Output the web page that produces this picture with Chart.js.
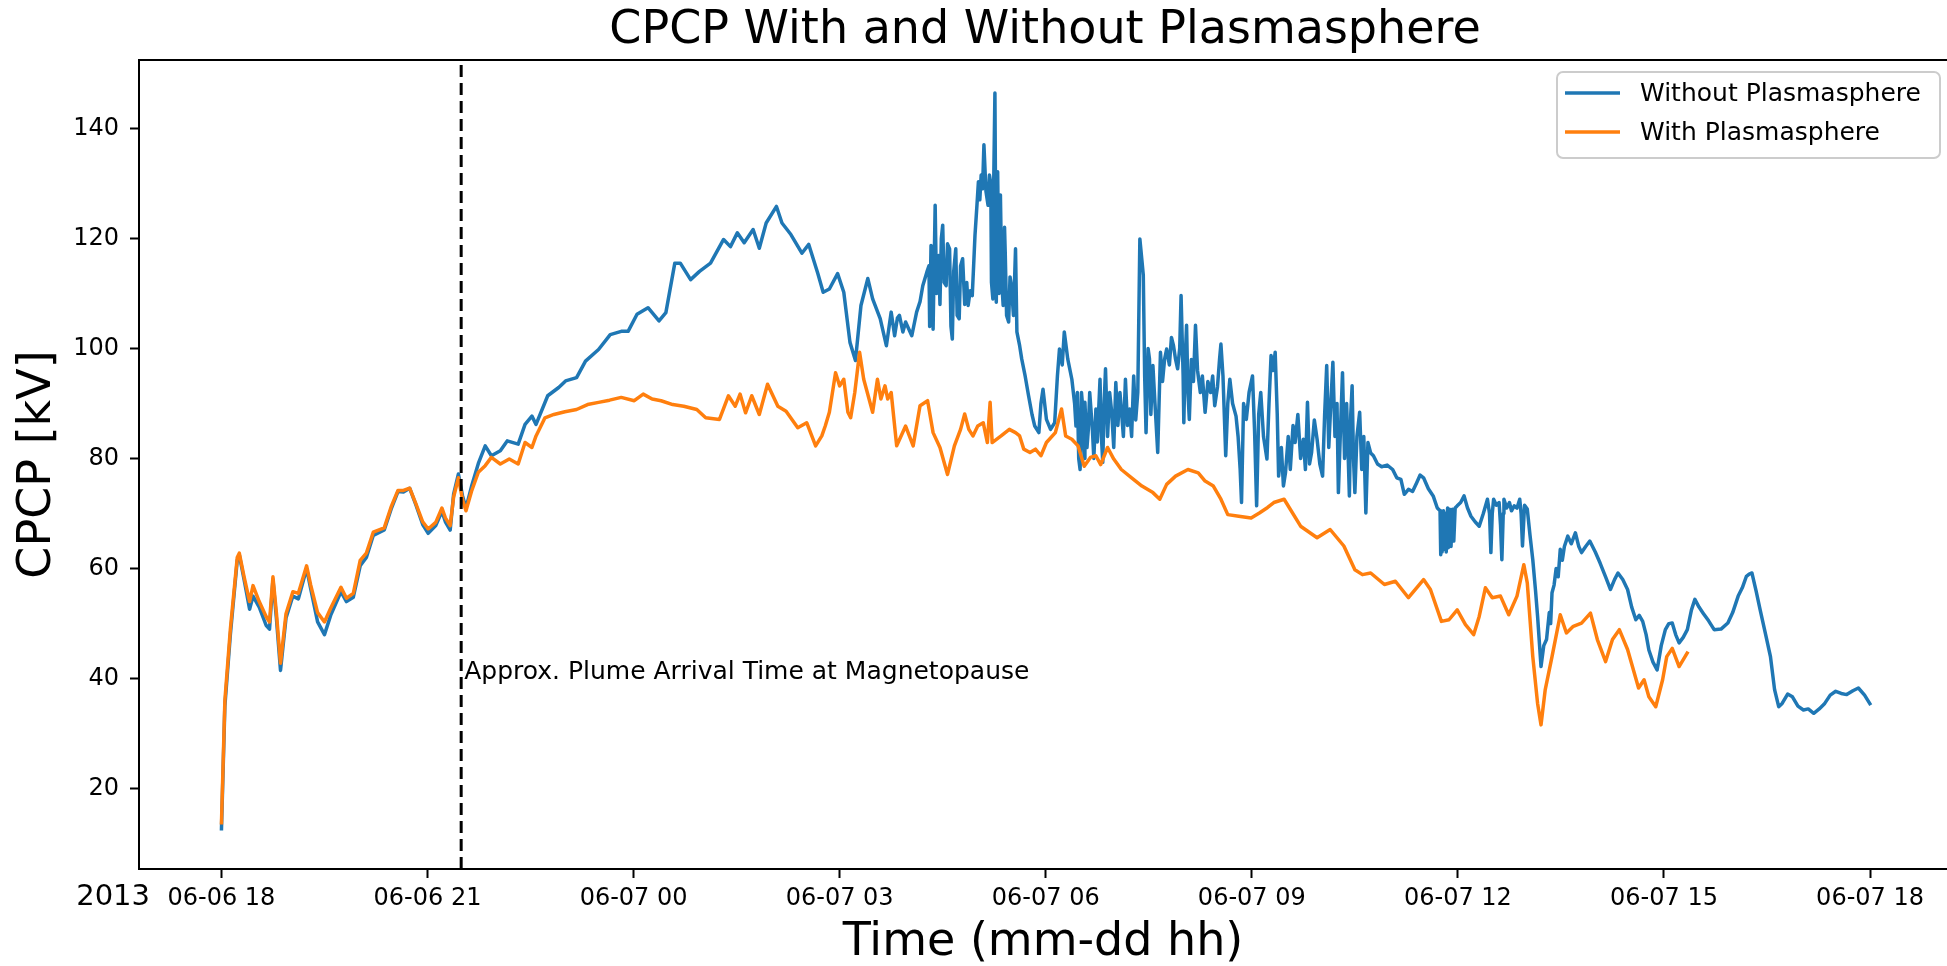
<!DOCTYPE html>
<html>
<head>
<meta charset="utf-8">
<title>CPCP With and Without Plasmasphere</title>
<script src="https://cdn.jsdelivr.net/npm/chart.js@4.4.0/dist/chart.umd.min.js"></script>
<style>
  html, body { margin: 0; padding: 0; background: #fff; }
  #wrap { width: 1947px; height: 966px; }
</style>
</head>
<body>
<div id="wrap"><canvas id="cpcpChart"></canvas></div>
<script>
// time is in hours counted from 2013-06-06 00:00
const xTickHours = [18, 21, 24, 27, 30, 33, 36, 39, 42];
const xTickLabels = [
  "06-06 18", "06-06 21", "06-07 00", "06-07 03", "06-07 06",
  "06-07 09", "06-07 12", "06-07 15", "06-07 18",
];
const yTicks = [20, 40, 60, 80, 100, 120, 140];
const plumeArrivalHour = 21.49;
const plumeLabelLevel = 40;

// [hour, CPCP kV]
const withoutPlasmasphere = [
  [18.00, 12.4], [18.05, 35.0], [18.13, 48.0], [18.23, 61.5], [18.26, 62.5],
  [18.33, 58.0], [18.41, 52.6], [18.46, 55.0], [18.55, 53.0], [18.65, 49.7],
  [18.70, 49.0], [18.75, 58.0], [18.80, 51.0], [18.86, 41.5], [18.94, 51.0],
  [19.04, 55.0], [19.12, 54.5], [19.24, 60.0], [19.30, 56.3], [19.40, 50.3],
  [19.50, 48.0], [19.59, 51.5], [19.74, 55.8], [19.82, 54.0], [19.92, 54.8],
  [20.02, 60.5], [20.11, 62.0], [20.21, 66.0], [20.37, 67.0], [20.47, 70.8],
  [20.57, 74.0], [20.65, 73.9], [20.74, 74.6], [20.83, 71.6], [20.93, 68.0],
  [21.01, 66.4], [21.12, 67.8], [21.21, 70.4], [21.26, 68.5], [21.33, 67.0],
  [21.38, 73.5], [21.45, 77.2], [21.51, 73.2], [21.56, 71.0], [21.64, 74.9],
  [21.74, 79.1], [21.84, 82.3], [21.93, 80.5], [22.06, 81.4], [22.16, 83.2],
  [22.32, 82.6], [22.42, 86.2], [22.52, 87.7], [22.58, 86.2], [22.75, 91.4],
  [22.91, 92.9], [23.01, 94.1], [23.17, 94.7], [23.30, 97.7], [23.49, 99.8],
  [23.66, 102.5], [23.82, 103.1], [23.92, 103.1], [24.05, 106.2], [24.21, 107.4],
  [24.37, 105.0], [24.47, 106.5], [24.60, 115.5], [24.68, 115.5], [24.83, 112.5],
  [24.96, 114.0], [25.12, 115.5], [25.31, 119.8], [25.41, 118.5], [25.51, 121.0],
  [25.61, 119.2], [25.74, 121.6], [25.83, 118.2], [25.93, 122.8], [26.08, 125.8],
  [26.16, 122.8], [26.29, 120.7], [26.45, 117.3], [26.55, 118.9], [26.68, 113.7],
  [26.76, 110.2], [26.85, 110.8], [26.97, 113.6], [27.06, 110.2], [27.15, 101.1],
  [27.23, 97.8], [27.31, 107.8], [27.41, 112.7], [27.48, 109.0], [27.59, 105.4],
  [27.68, 100.5], [27.72, 104.0], [27.75, 106.6], [27.80, 102.3], [27.84, 105.5],
  [27.87, 106.0], [27.92, 103.0], [27.96, 104.8], [28.05, 102.3], [28.12, 106.6],
  [28.17, 108.5], [28.21, 111.4], [28.27, 113.9], [28.30, 115.0], [28.31, 104.0],
  [28.33, 118.7], [28.36, 103.5], [28.39, 126.0], [28.41, 110.0], [28.44, 116.9],
  [28.46, 108.0], [28.48, 120.0], [28.50, 122.4], [28.52, 112.0], [28.55, 111.4],
  [28.57, 119.0], [28.60, 118.1], [28.62, 104.0], [28.64, 101.7], [28.66, 114.0],
  [28.69, 118.1], [28.71, 106.0], [28.74, 105.4], [28.76, 115.0], [28.79, 116.3],
  [28.82, 108.0], [28.85, 112.0], [28.87, 107.8], [28.90, 110.5], [28.93, 109.6],
  [28.95, 115.0], [28.97, 120.6], [29.00, 126.3], [29.02, 130.3], [29.04, 127.0],
  [29.06, 131.5], [29.08, 129.0], [29.10, 137.0], [29.13, 128.5], [29.16, 126.0],
  [29.18, 131.5], [29.20, 130.0], [29.21, 112.0], [29.23, 109.0], [29.24, 128.0],
  [29.26, 146.4], [29.27, 125.0], [29.28, 108.4], [29.30, 132.1], [29.32, 110.0],
  [29.34, 127.9], [29.36, 112.0], [29.38, 107.8], [29.40, 122.0], [29.41, 117.5],
  [29.43, 106.0], [29.46, 104.8], [29.48, 113.0], [29.50, 111.4], [29.53, 106.0],
  [29.56, 118.1], [29.58, 103.0], [29.62, 100.5], [29.65, 98.1], [29.70, 95.0],
  [29.75, 91.4], [29.80, 88.0], [29.84, 85.9], [29.90, 84.7], [29.93, 90.0],
  [29.96, 92.6], [30.01, 87.1], [30.07, 85.3], [30.13, 86.5], [30.17, 95.0],
  [30.20, 99.9], [30.24, 97.0], [30.27, 103.0], [30.32, 98.1], [30.38, 94.4],
  [30.42, 90.0], [30.44, 85.9], [30.46, 92.0], [30.48, 80.0], [30.50, 78.0],
  [30.52, 92.0], [30.54, 89.0], [30.56, 80.0], [30.57, 90.2], [30.60, 82.0],
  [30.62, 85.3], [30.64, 92.0], [30.68, 85.0], [30.70, 80.0], [30.73, 89.0],
  [30.75, 83.0], [30.79, 94.4], [30.81, 84.0], [30.83, 79.3], [30.85, 90.0],
  [30.87, 96.3], [30.90, 84.0], [30.93, 92.0], [30.96, 88.4], [30.99, 82.0],
  [31.02, 93.8], [31.05, 86.0], [31.08, 92.0], [31.10, 89.0], [31.13, 84.0],
  [31.16, 94.4], [31.19, 86.0], [31.22, 89.0], [31.25, 84.0], [31.28, 95.0],
  [31.31, 87.0], [31.34, 92.0], [31.37, 119.9], [31.40, 116.0], [31.42, 113.3],
  [31.44, 95.0], [31.46, 84.7], [31.49, 100.0], [31.51, 98.1], [31.53, 88.0],
  [31.56, 96.9], [31.59, 90.0], [31.63, 81.1], [31.67, 99.3], [31.70, 94.0],
  [31.73, 98.0], [31.76, 99.9], [31.80, 97.0], [31.83, 102.0], [31.86, 100.5],
  [31.89, 98.0], [31.92, 96.3], [31.95, 100.0], [31.97, 109.6], [32.00, 95.0],
  [32.01, 86.5], [32.03, 98.0], [32.05, 104.2], [32.07, 92.0], [32.09, 87.1],
  [32.12, 98.0], [32.15, 94.0], [32.18, 104.2], [32.21, 96.0], [32.25, 92.0],
  [32.28, 95.0], [32.32, 88.4], [32.36, 94.0], [32.40, 92.0], [32.43, 95.0],
  [32.46, 89.6], [32.50, 93.0], [32.53, 98.0], [32.55, 100.8], [32.58, 95.0],
  [32.62, 80.5], [32.65, 90.0], [32.68, 94.4], [32.72, 90.0], [32.77, 87.7],
  [32.80, 84.0], [32.83, 78.0], [32.85, 72.0], [32.88, 90.0], [32.92, 87.1],
  [32.96, 92.0], [33.01, 95.0], [33.04, 85.0], [33.07, 71.4], [33.10, 88.0],
  [33.13, 92.0], [33.17, 84.0], [33.22, 79.9], [33.25, 90.0], [33.28, 98.7],
  [33.31, 96.0], [33.34, 99.3], [33.37, 88.0], [33.39, 76.8], [33.43, 82.0],
  [33.46, 75.0], [33.49, 77.4], [33.53, 84.0], [33.56, 78.0], [33.60, 86.0],
  [33.63, 82.9], [33.67, 88.0], [33.71, 80.0], [33.75, 83.5], [33.78, 78.0],
  [33.81, 90.2], [33.84, 79.0], [33.87, 81.1], [33.91, 87.0], [33.95, 83.5],
  [33.99, 79.0], [34.03, 76.8], [34.06, 88.0], [34.09, 96.9], [34.12, 82.0],
  [34.15, 90.0], [34.18, 97.5], [34.21, 84.0], [34.24, 90.0], [34.26, 73.8],
  [34.29, 85.0], [34.32, 95.6], [34.35, 80.0], [34.38, 90.0], [34.42, 73.2],
  [34.44, 88.0], [34.46, 93.2], [34.48, 80.0], [34.50, 73.8], [34.53, 84.0],
  [34.57, 88.4], [34.60, 78.0], [34.63, 84.0], [34.66, 70.1], [34.69, 82.9],
  [34.73, 81.0], [34.77, 80.5], [34.83, 79.0], [34.89, 78.5], [34.97, 78.8],
  [35.05, 78.0], [35.11, 76.5], [35.17, 76.2], [35.22, 73.5], [35.28, 74.4],
  [35.34, 74.0], [35.40, 75.6], [35.45, 77.0], [35.50, 76.5], [35.57, 74.5],
  [35.64, 73.2], [35.70, 71.0], [35.74, 70.5], [35.75, 62.5], [35.76, 70.0],
  [35.77, 63.0], [35.79, 70.5], [35.80, 63.5], [35.82, 70.0], [35.83, 63.0],
  [35.85, 71.0], [35.86, 63.8], [35.88, 70.8], [35.90, 64.0], [35.92, 70.8],
  [35.94, 65.0], [35.96, 71.0], [35.99, 71.4], [36.04, 72.0], [36.09, 73.2],
  [36.14, 71.0], [36.19, 69.5], [36.25, 68.5], [36.31, 67.7], [36.37, 70.0],
  [36.43, 72.6], [36.46, 70.0], [36.48, 62.9], [36.50, 70.0], [36.52, 72.6],
  [36.56, 71.5], [36.60, 72.0], [36.62, 68.0], [36.64, 61.6], [36.66, 70.0],
  [36.67, 72.6], [36.71, 71.0], [36.75, 72.0], [36.78, 70.5], [36.82, 71.4],
  [36.86, 71.0], [36.90, 72.6], [36.92, 70.0], [36.94, 64.1], [36.97, 71.5],
  [37.01, 70.8], [37.05, 66.0], [37.09, 61.6], [37.13, 56.0], [37.16, 51.3],
  [37.21, 42.2], [37.25, 46.0], [37.29, 47.1], [37.33, 52.0], [37.35, 50.0],
  [37.37, 55.6], [37.40, 57.0], [37.43, 60.0], [37.46, 58.5], [37.49, 63.5],
  [37.52, 61.5], [37.55, 64.0], [37.60, 65.9], [37.65, 64.5], [37.71, 66.5],
  [37.76, 64.0], [37.80, 62.9], [37.86, 64.0], [37.92, 65.0], [38.00, 63.0],
  [38.07, 61.0], [38.15, 58.5], [38.22, 56.2], [38.28, 58.0], [38.33, 59.2],
  [38.40, 58.0], [38.47, 56.2], [38.53, 53.0], [38.59, 50.7], [38.64, 51.5],
  [38.69, 50.4], [38.74, 48.0], [38.78, 45.2], [38.84, 43.0], [38.90, 41.6],
  [38.96, 46.0], [39.02, 48.9], [39.07, 50.0], [39.12, 50.1], [39.17, 48.0],
  [39.22, 46.5], [39.28, 47.5], [39.34, 48.9], [39.40, 52.5], [39.45, 54.4],
  [39.51, 53.0], [39.57, 51.9], [39.65, 50.5], [39.73, 48.9], [39.83, 49.0],
  [39.93, 50.1], [40.00, 52.0], [40.08, 55.0], [40.14, 56.5], [40.20, 58.6],
  [40.24, 59.0], [40.28, 59.2], [40.34, 56.0], [40.40, 52.5], [40.48, 48.0],
  [40.55, 44.0], [40.61, 38.0], [40.67, 34.9], [40.72, 35.5], [40.80, 37.2],
  [40.87, 36.7], [40.95, 35.0], [41.03, 34.3], [41.10, 34.5], [41.18, 33.7],
  [41.26, 34.5], [41.34, 35.5], [41.42, 37.0], [41.50, 37.7], [41.58, 37.3],
  [41.66, 37.1], [41.75, 37.8], [41.83, 38.3], [41.92, 37.0], [42.01, 35.2],
];

const withPlasmasphere = [
  [18.00, 13.5], [18.05, 36.0], [18.13, 49.0], [18.23, 62.0], [18.26, 62.8],
  [18.33, 58.5], [18.41, 54.0], [18.46, 56.9], [18.55, 54.0], [18.65, 51.3],
  [18.70, 50.3], [18.75, 58.5], [18.80, 52.0], [18.86, 42.8], [18.94, 51.8],
  [19.04, 55.8], [19.12, 55.5], [19.24, 60.5], [19.30, 57.0], [19.40, 52.0],
  [19.50, 50.3], [19.59, 52.8], [19.74, 56.6], [19.82, 54.6], [19.92, 55.5],
  [20.02, 61.5], [20.11, 62.8], [20.21, 66.6], [20.37, 67.4], [20.47, 71.2],
  [20.57, 74.2], [20.65, 74.2], [20.74, 74.6], [20.83, 71.8], [20.93, 68.5],
  [21.01, 67.2], [21.12, 68.4], [21.21, 71.0], [21.26, 69.2], [21.33, 67.8],
  [21.38, 73.0], [21.45, 76.5], [21.51, 72.5], [21.56, 70.5], [21.64, 74.0],
  [21.74, 77.5], [21.84, 78.7], [21.93, 80.2], [22.06, 79.0], [22.19, 79.9],
  [22.32, 79.0], [22.42, 82.9], [22.52, 82.0], [22.58, 84.1], [22.71, 87.4],
  [22.84, 88.0], [23.00, 88.5], [23.17, 88.9], [23.33, 89.8], [23.49, 90.2],
  [23.65, 90.6], [23.82, 91.1], [24.01, 90.5], [24.14, 91.7], [24.27, 90.8],
  [24.40, 90.5], [24.57, 89.8], [24.73, 89.5], [24.92, 88.9], [25.05, 87.4],
  [25.25, 87.1], [25.38, 91.4], [25.48, 89.5], [25.55, 91.7], [25.63, 88.3],
  [25.72, 91.4], [25.83, 88.0], [25.95, 93.5], [26.10, 89.5], [26.22, 88.6],
  [26.39, 85.6], [26.52, 86.5], [26.65, 82.3], [26.74, 84.1], [26.79, 85.9],
  [26.85, 88.4], [26.94, 95.6], [27.00, 93.2], [27.06, 94.4], [27.12, 88.4],
  [27.16, 87.4], [27.22, 92.0], [27.29, 99.3], [27.35, 94.4], [27.48, 88.4],
  [27.55, 94.4], [27.60, 90.8], [27.66, 93.2], [27.70, 90.8], [27.75, 92.0],
  [27.83, 82.3], [27.96, 85.9], [28.07, 82.3], [28.17, 89.6], [28.28, 90.5],
  [28.36, 84.7], [28.46, 82.0], [28.57, 77.1], [28.67, 82.3], [28.76, 85.3],
  [28.82, 88.1], [28.88, 85.3], [28.94, 84.1], [29.01, 85.9], [29.09, 86.5],
  [29.15, 82.9], [29.19, 90.2], [29.22, 82.9], [29.35, 84.1], [29.47, 85.3],
  [29.56, 84.7], [29.62, 84.1], [29.68, 81.7], [29.77, 81.1], [29.85, 81.7],
  [29.93, 80.5], [30.01, 82.9], [30.14, 84.7], [30.23, 89.0], [30.29, 84.1],
  [30.38, 83.5], [30.47, 82.3], [30.56, 78.6], [30.65, 80.2], [30.73, 80.5],
  [30.80, 78.9], [30.90, 82.0], [30.99, 79.9], [31.10, 78.0], [31.25, 76.5],
  [31.40, 75.0], [31.56, 73.8], [31.66, 72.6], [31.76, 75.3], [31.89, 76.8],
  [32.07, 78.0], [32.22, 77.4], [32.32, 75.9], [32.44, 75.0], [32.55, 72.6],
  [32.65, 69.8], [32.81, 69.5], [32.99, 69.2], [33.11, 70.1], [33.23, 71.1],
  [33.32, 72.0], [33.47, 72.6], [33.71, 67.7], [33.95, 65.6], [34.14, 67.1],
  [34.34, 64.1], [34.50, 59.8], [34.61, 58.9], [34.73, 59.2], [34.93, 57.1],
  [35.09, 57.7], [35.28, 54.7], [35.50, 58.0], [35.60, 56.2], [35.76, 50.4],
  [35.87, 50.7], [35.99, 52.5], [36.11, 49.8], [36.23, 48.0], [36.31, 51.3],
  [36.40, 56.5], [36.50, 54.7], [36.62, 55.0], [36.74, 51.6], [36.86, 55.0],
  [36.96, 60.7], [37.01, 57.4], [37.09, 44.0], [37.16, 35.5], [37.21, 31.6],
  [37.27, 37.9], [37.37, 44.0], [37.49, 51.6], [37.58, 48.3], [37.68, 49.5],
  [37.80, 50.1], [37.93, 51.9], [38.03, 47.1], [38.15, 43.1], [38.25, 47.1],
  [38.35, 48.9], [38.47, 45.3], [38.63, 38.3], [38.71, 39.8], [38.78, 36.7],
  [38.88, 34.9], [38.98, 39.8], [39.04, 44.0], [39.12, 45.5], [39.22, 42.2],
  [39.35, 44.9],
];

const FONT = "DejaVu Sans";
const X_MIN = 16.80;
const X_MAX = 43.12;
const Y_MIN = 5.41;
const Y_MAX = 152.41;

Chart.defaults.font.family = FONT;
Chart.defaults.color = "#000";

// title, legend box, annotation, year offset and the top spine
const extrasPlugin = {
  id: "extras",
  afterDraw(chart) {
    const { ctx, chartArea, scales } = chart;
    ctx.save();

    ctx.strokeStyle = "#000";
    ctx.lineWidth = 2;
    ctx.beginPath();
    ctx.moveTo(chartArea.left - 1, chartArea.top);
    ctx.lineTo(chartArea.right, chartArea.top);
    ctx.stroke();

    ctx.fillStyle = "#000";
    ctx.font = `46px "${FONT}"`;
    ctx.textAlign = "center";
    ctx.textBaseline = "alphabetic";
    ctx.fillText(
      "CPCP With and Without Plasmasphere",
      (chartArea.left + chartArea.right) / 2 + 2,
      43
    );

    ctx.font = `25px "${FONT}"`;
    ctx.textAlign = "left";
    ctx.fillText(
      "Approx. Plume Arrival Time at Magnetopause",
      scales.x.getPixelForValue(plumeArrivalHour) + 3,
      scales.y.getPixelForValue(plumeLabelLevel)
    );

    ctx.font = `29px "${FONT}"`;
    ctx.textAlign = "right";
    ctx.textBaseline = "middle";
    ctx.fillText("2013", chartArea.left + 11, chartArea.bottom + 28);

    // legend in the upper right corner
    const bx = chartArea.right - 390;
    const by = chartArea.top + 12;
    const bw = 383;
    const bh = 86;
    ctx.beginPath();
    ctx.roundRect(bx, by, bw, bh, 6);
    ctx.fillStyle = "rgba(255,255,255,0.8)";
    ctx.fill();
    ctx.strokeStyle = "#cccccc";
    ctx.lineWidth = 2;
    ctx.stroke();

    ctx.font = `25px "${FONT}"`;
    ctx.textAlign = "left";
    ctx.textBaseline = "middle";
    chart.data.datasets.slice(0, 2).forEach((ds, i) => {
      const ly = by + 21 + i * 39;
      ctx.strokeStyle = ds.borderColor;
      ctx.lineWidth = 3.5;
      ctx.beginPath();
      ctx.moveTo(bx + 8, ly);
      ctx.lineTo(bx + 63, ly);
      ctx.stroke();
      ctx.fillStyle = "#000";
      ctx.fillText(ds.label, bx + 83, ly + 1);
    });

    ctx.restore();
  },
};

const ctx = document.getElementById("cpcpChart").getContext("2d");

new Chart(ctx, {
  type: "line",
  data: {
    datasets: [
      {
        label: "Without Plasmasphere",
        data: withoutPlasmasphere.map(([x, y]) => ({ x, y })),
        borderColor: "#1f77b4",
        borderWidth: 3.5,
        borderJoinStyle: "round",
        pointRadius: 0,
        tension: 0,
        order: 2,
      },
      {
        label: "With Plasmasphere",
        data: withPlasmasphere.map(([x, y]) => ({ x, y })),
        borderColor: "#ff7f0e",
        borderWidth: 3.5,
        borderJoinStyle: "round",
        pointRadius: 0,
        tension: 0,
        order: 1,
      },
      {
        label: "Plume arrival",
        data: [
          { x: plumeArrivalHour, y: Y_MIN },
          { x: plumeArrivalHour, y: Y_MAX },
        ],
        borderColor: "#000",
        borderWidth: 3,
        borderDash: [12, 6],
        pointRadius: 0,
        order: 0,
      },
    ],
  },
  options: {
    responsive: true,
    maintainAspectRatio: false,
    devicePixelRatio: 1,
    animation: false,
    layout: { padding: { top: 60, right: 0, bottom: 0, left: 0 } },
    plugins: {
      legend: { display: false },
      tooltip: { enabled: false },
      title: { display: false },
    },
    scales: {
      x: {
        type: "linear",
        min: X_MIN,
        max: X_MAX,
        afterBuildTicks: (axis) => {
          axis.ticks = xTickHours.map((v) => ({ value: v }));
        },
        afterFit: (axis) => {
          axis.height = 97;
        },
        ticks: {
          callback: (value, index) => xTickLabels[index],
          font: { size: 24 },
          color: "#000",
          padding: 6,
          maxRotation: 0,
          autoSkip: false,
        },
        grid: {
          drawOnChartArea: false,
          drawTicks: true,
          tickLength: 9,
          tickWidth: 2,
          tickColor: "#000",
        },
        border: { display: true, color: "#000", width: 2 },
        title: {
          display: true,
          text: "Time (mm-dd hh)",
          color: "#000",
          font: { size: 46, lineHeight: 1 },
          padding: { top: 0, bottom: 0 },
        },
      },
      y: {
        type: "linear",
        min: Y_MIN,
        max: Y_MAX,
        afterBuildTicks: (axis) => {
          axis.ticks = yTicks.map((v) => ({ value: v }));
        },
        afterFit: (axis) => {
          axis.width = 139;
        },
        ticks: {
          font: { size: 24 },
          color: "#000",
          padding: 11,
        },
        grid: {
          drawOnChartArea: false,
          drawTicks: true,
          tickLength: 9,
          tickWidth: 2,
          tickColor: "#000",
        },
        border: { display: true, color: "#000", width: 2 },
        title: {
          display: true,
          text: "CPCP [kV]",
          color: "#000",
          font: { size: 46, lineHeight: 1 },
          padding: { top: 15, bottom: 0 },
        },
      },
    },
  },
  plugins: [extrasPlugin],
});
</script>
</body>
</html>
